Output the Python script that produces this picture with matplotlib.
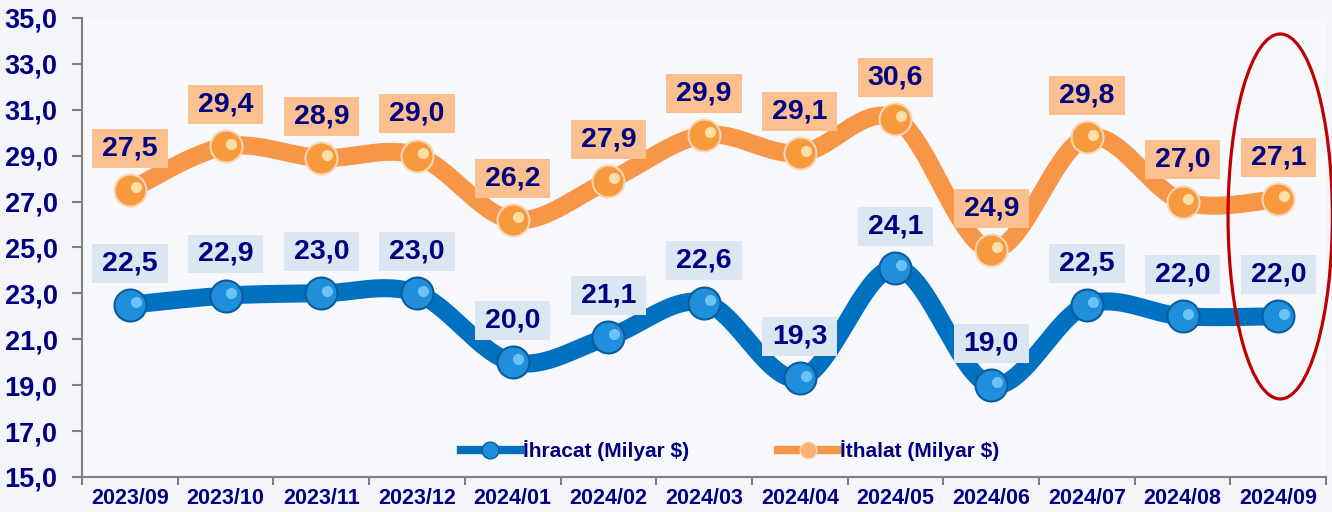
import numpy as np
import matplotlib.pyplot as plt
from matplotlib.lines import Line2D
from matplotlib.patches import Ellipse

plt.rcParams['font.family'] = ['Liberation Sans', 'DejaVu Sans']
plt.rcParams['font.weight'] = 'bold'

months = ['2023/09', '2023/10', '2023/11', '2023/12', '2024/01', '2024/02', '2024/03',
          '2024/04', '2024/05', '2024/06', '2024/07', '2024/08', '2024/09']
ihracat = [22.5, 22.9, 23.0, 23.0, 20.0, 21.1, 22.6, 19.3, 24.1, 19.0, 22.5, 22.0, 22.0]
ithalat = [27.5, 29.4, 28.9, 29.0, 26.2, 27.9, 29.9, 29.1, 30.6, 24.9, 29.8, 27.0, 27.1]

navy = '#000080'
blue = '#0070C0'
orange = '#F79646'


def smooth(x, y, n=40):
    # catmull-rom, close to excel's smoothed line
    pts = np.column_stack([x, y]).astype(float)
    p = np.vstack([pts[0], pts, pts[-1]])
    out = []
    t = np.linspace(0, 1, n)[:, None]
    for i in range(1, len(p) - 2):
        p0, p1, p2, p3 = p[i - 1], p[i], p[i + 1], p[i + 2]
        seg = 0.5 * (2 * p1 + (-p0 + p2) * t + (2 * p0 - 5 * p1 + 4 * p2 - p3) * t ** 2
                     + (-p0 + 3 * p1 - 3 * p2 + p3) * t ** 3)
        out.append(seg)
    return np.vstack(out)


fig = plt.figure(figsize=(13.32, 5.12), dpi=100, facecolor='#F3F5FA')
ax = fig.add_axes([0.0616, 0.0684, 0.934, 0.8966])
ax.set_facecolor('#F7F8FC')

x = np.arange(len(months))

for vals, col, mcol, edge, hl, box in [
        (ihracat, blue, '#1F8FDB', '#0A5C9C', '#7FD0FF', '#DCE6F2'),
        (ithalat, orange, '#F79A3E', '#FCD5B4', '#FFF0C0', '#FAC090')]:
    c = smooth(x, vals)
    ax.plot(c[:, 0], c[:, 1], color=col, lw=13, solid_capstyle='round', zorder=2)
    ax.plot(x, vals, 'o', ms=23, color=mcol, mec=edge, mew=1.5, zorder=3)
    ax.plot(x + 0.06, np.array(vals) + 0.12, 'o', ms=8, color=hl, mew=0, alpha=0.8, zorder=4)
    for xi, v in zip(x, vals):
        ax.annotate(f'{v:.1f}'.replace('.', ','), (xi, v), xytext=(0, 30),
                    textcoords='offset points', ha='center', va='center',
                    fontsize=20.5, fontweight='bold', color=navy, zorder=5,
                    bbox=dict(boxstyle='square,pad=0.35', fc=box, ec='none',
                              mutation_aspect=0.65))

ax.set_xlim(-0.5, 12.5)
ax.set_ylim(15, 35)
ax.set_yticks(np.arange(15, 36, 2))
ax.set_yticklabels([f'{v:.1f}'.replace('.', ',') for v in np.arange(15, 36, 2)])
ax.set_xticks(x)
ax.set_xticklabels(months)
ax.set_xticks(np.arange(-0.5, 13, 1), minor=True)
ax.tick_params(axis='x', which='major', length=0, pad=8, labelsize=15.5, labelcolor=navy)
ax.tick_params(axis='x', which='minor', length=6, color='#808080', width=1.5)
ax.tick_params(axis='y', length=7, color='#808080', width=1.5, pad=10.5,
               labelsize=19.5, labelcolor=navy)
for lab in ax.get_xticklabels() + ax.get_yticklabels():
    lab.set_fontweight('bold')

for s in ['top', 'right']:
    ax.spines[s].set_visible(False)
for s in ['left', 'bottom']:
    ax.spines[s].set_color('#808080')
    ax.spines[s].set_linewidth(1.5)

ax.add_patch(Ellipse((12.02, 26.35), 1.09, 15.9, fill=False, ec='#C00000', lw=2.3,
                     clip_on=False, zorder=6))

handles = [Line2D([0], [0], color=blue, lw=6, marker='o', ms=12, mfc='#1F8FDB', mec='#0A5C9C'),
           Line2D([0], [0], color=orange, lw=6, marker='o', ms=12, mfc='#F9B070', mec='#FCD5B4')]
leg = ax.legend(handles, ['İhracat (Milyar $)', 'İthalat (Milyar $)'], loc='center',
                bbox_to_anchor=(0.521, 0.057), ncol=2, frameon=False, fontsize=15,
                handlelength=2.8, columnspacing=4.3, handletextpad=0.15)
for t in leg.get_texts():
    t.set_color(navy)
    t.set_fontweight('bold')

fig.savefig('out.png', dpi=100, facecolor=fig.get_facecolor())
